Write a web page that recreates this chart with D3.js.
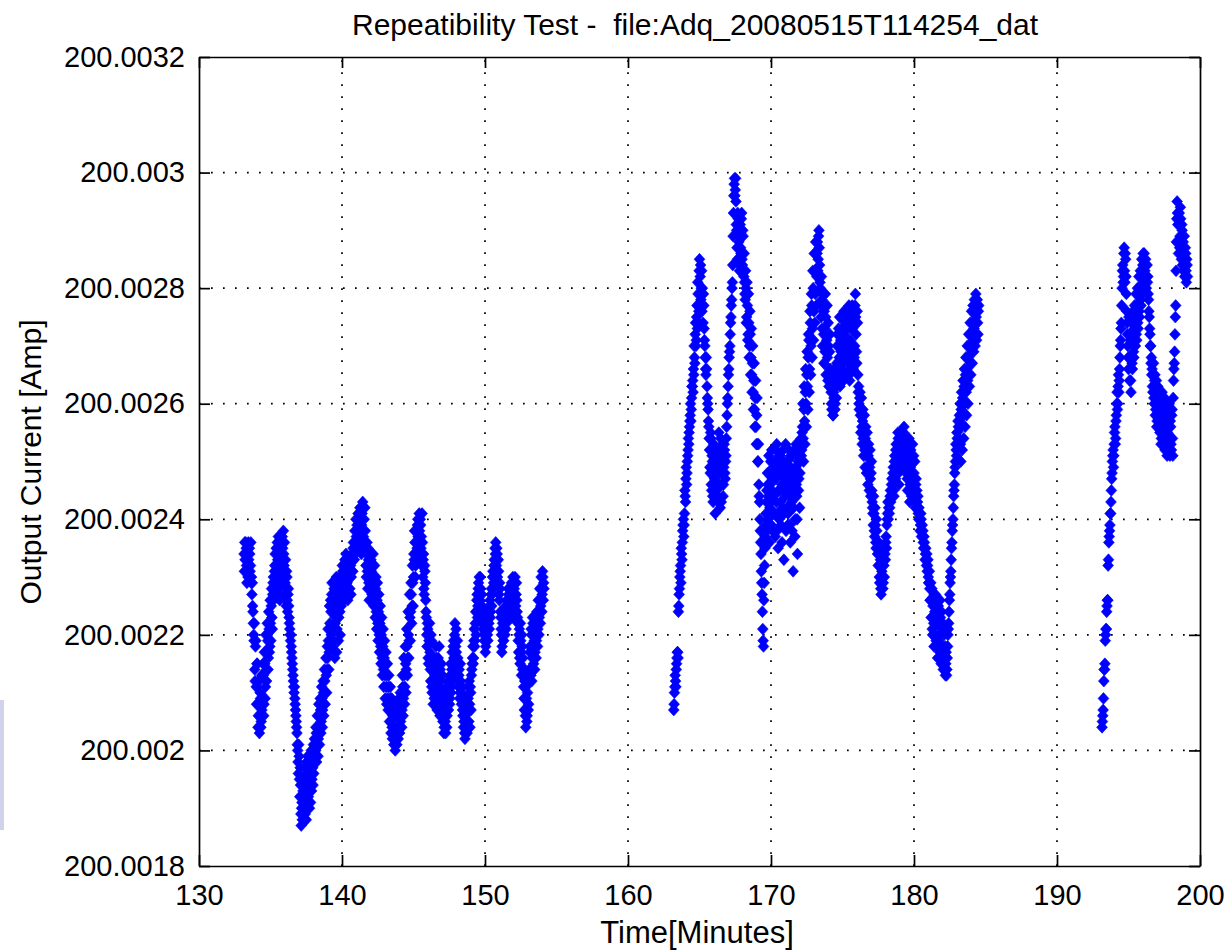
<!DOCTYPE html>
<html>
<head>
<meta charset="utf-8">
<title>Repeatibility Test</title>
<script src="https://d3js.org/d3.v7.min.js"></script>
<style>
  body { margin: 0; background: #fff; }
  svg text { font-family: "Liberation Sans", Arial, Helvetica, sans-serif; fill: #000; white-space: pre; }
</style>
</head>
<body>
<div id="chart"></div>
<script>

// three acquisition runs, one reading every 0.05 minutes plus one half a step later
const sampleStep = 0.05;
const seg1Start = 133.15;
const seg2Start = 163.20;
const seg3Start = 193.15;

// output current, in units of 10 uA above 200 A (234 -> 200.00234)
const seg1Values = [
  234,236,231,235,229,233,236,230,234,232,229,227,225,222,219,214,218,211,215,208,
  206,212,204,209,205,207,209,213,208,215,211,217,214,219,216,221,218,222,225,223,
  227,230,228,232,229,235,227,233,237,231,226,234,236,230,235,238,232,227,233,225,
  230,224,228,223,221,219,218,216,214,212,210,209,207,205,203,200,196,199,192,194,
  187,191,189,195,190,197,193,188,196,199,192,194,198,191,200,195,197,201,199,201,
  200,203,201,204,202,206,204,207,205,209,207,210,208,212,210,213,214,216,219,217,
  222,226,220,229,218,224,228,216,223,230,221,226,219,227,224,229,225,227,231,228,
  230,233,227,232,229,226,231,233,228,232,230,234,231,236,233,238,235,237,239,236,
  240,235,242,238,234,241,243,237,240,242,235,230,236,228,233,226,234,229,231,227,
  232,228,229,226,228,224,226,222,224,220,222,218,220,216,218,214,216,213,215,211,
  213,209,211,207,209,205,207,204,206,202,204,201,203,201,204,202,206,203,207,205,
  209,207,211,209,213,211,215,214,218,216,220,219,223,224,227,225,229,230,233,236,
  232,238,235,240,236,241,233,239,237,241,230,234,227,231,226,223,218,221,215,220,
  217,212,219,210,214,216,209,213,211,216,207,214,209,218,206,212,215,208,205,210,
  204,208,203,211,206,209,207,212,209,215,211,217,214,219,216,222,218,217,213,216,
  211,214,210,212,208,211,206,204,207,202,205,209,203,211,207,212,204,210,213,215,
  218,216,221,219,224,222,227,225,229,230,226,228,223,225,221,223,219,221,218,220,
  222,219,224,221,226,224,228,227,231,229,233,235,236,232,234,229,231,226,228,223,
  220,218,221,219,223,220,225,222,226,224,227,225,228,224,229,226,230,223,228,230,
  225,229,224,222,217,221,215,219,213,218,216,211,207,214,204,209,206,212,208,214,
  218,213,220,216,222,215,219,217,220,219,222,221,224,223,226,225,228,227,230,229
];
const seg1MidValues = [
  231,233,236,232,234,230,233,235,231,236,230,229,224,220,222,212,219,208,215,204,
  212,203,210,204,213,206,215,206,217,209,220,212,222,214,224,217,226,219,228,221,
  229,226,231,234,232,228,236,230,234,228,237,229,232,237,229,234,236,229,226,231,
  226,227,225,222,220,220,217,215,213,211,211,208,206,204,201,198,201,195,197,189,
  190,188,193,192,194,189,195,198,191,194,197,190,195,199,193,198,194,196,202,198,
  204,198,206,199,208,201,209,203,211,204,212,206,214,208,216,210,218,221,214,225,
  218,224,227,221,226,219,225,222,229,217,225,228,223,230,220,226,228,232,229,226,
  228,231,234,229,233,230,228,232,230,227,233,231,235,233,236,234,240,238,235,241,
  237,239,236,241,239,236,240,242,235,238,232,234,231,235,229,231,228,233,226,230,
  234,225,232,223,230,221,229,219,227,217,225,215,223,213,221,211,219,209,217,208,
  215,207,213,205,211,203,209,202,208,201,207,200,206,201,208,202,209,203,210,204,
  204,213,206,216,208,218,210,221,213,224,216,227,219,229,222,232,225,234,238,230,
  236,233,239,237,234,238,240,235,232,236,233,228,232,229,224,220,222,216,219,222,
  214,220,211,216,208,212,215,210,218,209,212,216,211,207,214,209,206,213,208,203,
  207,205,210,204,208,212,210,208,213,210,214,212,218,216,220,219,221,215,219,212,
  213,209,215,209,210,207,209,205,203,206,208,204,207,209,205,208,211,207,214,216,
  215,219,218,222,220,226,223,228,226,228,230,224,227,222,224,220,222,217,220,219,
  220,223,222,225,223,227,225,230,228,232,231,234,233,235,230,233,227,229,224,221,
  217,222,219,222,221,224,221,226,223,228,224,227,225,227,223,228,225,229,226,227,
  227,226,223,219,220,216,222,217,220,214,213,209,212,206,211,205,210,207,212,217,
  213,221,212,223,217,223,214,222,216,224,218,226,220,228,222,230,224,231,226,228
];

const seg2Values = [
  207,210,213,211,215,217,216,225,228,231,229,234,236,239,237,241,244,247,246,250,
  252,253,256,258,257,261,263,262,265,268,272,270,275,273,279,276,285,282,278,283,
  280,274,277,271,268,265,266,261,259,256,252,248,254,245,250,243,253,247,241,249,
  245,251,243,255,248,242,250,246,253,244,249,252,247,251,256,260,263,266,269,272,
  275,278,281,289,296,299,297,295,290,285,292,288,283,291,286,293,284,289,282,281,
  278,280,275,277,272,274,270,272,268,265,267,262,264,259,261,256,258,253,250,246,
  243,238,234,229,224,219,226,232,237,241,245,248,240,251,236,246,243,252,238,249,
  244,250,237,247,253,241,235,248,245,251,239,246,242,252,233,249,244,238,250,247,
  241,252,246,236,249,243,251,231,245,248,240,253,244,234,250,247,242,250,254,252,
  256,254,259,257,262,260,265,263,268,271,266,274,270,277,273,280,276,283,279,286,
  282,288,285,290,284,280,275,278,270,276,267,273,279,265,271,268,274,263,269,266,
  262,259,264,258,261,266,260,263,267,272,265,270,275,264,269,273,266,271,276,268,
  273,265,270,274,267,277,264,271,275,268,273,266,276,270,279,272,267,274,262,260,
  261,258,259,256,257,254,256,252,254,251,252,249,251,248,249,247,248,245,242,239,
  241,237,239,235,238,234,232,236,229,233,227,231,234,229,232,235,233,237,239,241,
  240,243,242,245,244,247,246,249,244,251,247,253,248,250,254,246,252,255,249,253,
  251,254,256,250,253,248,252,245,250,254,243,249,251,246,253,244,248,250,242,247,
  245,243,241,242,240,239,240,238,237,236,237,235,234,233,234,232,230,229,228,226,
  223,228,220,226,218,224,227,219,222,216,225,220,217,223,215,221,218,214,220,216,
  213,217,214,218,221,224,227,230,233,236,239,242,245,248,250,252,255,253,256,254,
  257,253,259,256,261,258,263,260,265,262,266,264,268,265,270,267,272,269,274,271,
  273,276,272,275,277,274,276
];
const seg2MidValues = [
  208,211,212,214,216,217,224,227,230,232,235,233,238,240,239,245,243,249,248,251,
  254,255,257,260,259,263,264,266,270,267,274,271,277,281,274,283,279,284,280,276,
  277,279,273,270,266,268,263,260,257,254,249,255,246,251,244,248,251,244,252,246,
  248,244,252,246,250,254,243,248,251,246,253,248,250,254,258,261,265,268,270,274,
  277,280,284,293,298,296,299,291,287,293,289,284,290,287,292,285,290,283,286,279,
  283,274,281,271,279,268,276,265,273,262,270,259,267,256,264,253,261,250,253,244,
  240,236,231,227,221,218,229,235,239,243,238,246,244,248,242,250,239,245,247,241,
  248,241,252,243,238,249,245,240,251,243,248,236,250,245,241,247,253,246,242,239,
  248,244,239,251,245,238,247,242,252,237,249,246,240,251,245,252,248,253,251,255,
  260,250,263,253,266,256,269,259,272,262,276,265,279,268,283,271,286,274,288,277,
  286,283,289,287,281,277,282,273,279,272,276,269,275,270,277,264,270,266,272,264,
  260,263,258,262,264,259,265,261,270,266,273,268,263,271,267,275,269,264,272,274,
  269,275,268,271,276,265,273,269,266,277,270,274,268,277,275,269,276,265,263,259,
  262,255,261,253,259,251,258,249,256,248,255,246,253,245,252,244,250,243,241,244,
  238,242,236,240,235,236,234,230,234,228,232,230,228,233,230,234,236,235,240,243,
  242,241,244,243,246,245,248,245,250,247,252,249,251,255,248,251,253,250,254,251,
  253,255,252,254,249,251,247,253,247,251,246,252,244,250,247,251,245,243,246,244,
  242,244,240,241,238,241,237,239,238,235,236,233,235,232,231,233,229,231,226,229,
  226,221,225,222,227,220,223,225,218,224,219,222,226,218,224,216,222,217,215,218,
  215,213,216,220,222,226,229,231,235,238,240,244,246,249,253,251,254,257,253,258,
  260,250,262,252,264,254,266,256,268,258,270,260,272,263,274,265,276,267,277,269,
  278,270,279,271,278,272,277
];

const seg3Values = [
  204,206,209,214,215,220,221,225,226,233,237,239,241,245,248,251,249,253,256,254,
  258,262,260,265,264,268,271,274,280,284,282,287,281,285,279,274,270,266,272,268,
  264,271,267,275,269,273,270,275,272,277,274,279,276,280,278,282,280,284,281,286,
  283,285,280,284,282,278,275,272,270,268,266,262,267,260,265,259,264,257,263,256,
  261,255,260,254,262,253,258,256,252,259,254,251,257,253,260,251,256,252,259,251,
  264,267,272,277,288,295,291,286,293,289,292,285,290,287,283,289,284,286,281,284
];
const seg3MidValues = [
  205,207,212,214,219,221,224,226,232,236,238,241,243,247,250,252,251,255,253,257,
  260,259,263,262,266,270,273,277,283,281,286,283,286,282,276,272,268,275,264,271,
  262,274,266,276,268,277,270,279,271,280,273,282,275,283,277,285,279,286,281,284,
  281,284,282,281,279,276,273,270,267,265,263,265,261,264,258,262,256,261,258,260,
  257,259,253,258,256,260,254,261,255,253,258,255,252,259,254,257,253,258,254,261,
  266,269,275,283,292,293,288,291,287,294,288,291,284,288,286,282,287,283,285,282
];

const xTicks = [130, 140, 150, 160, 170, 180, 190, 200];
const yTicks = [200.0018, 200.002, 200.0022, 200.0024, 200.0026, 200.0028, 200.003, 200.0032];
const yTickLabels = ["200.0018", "200.002", "200.0022", "200.0024", "200.0026", "200.0028", "200.003", "200.0032"];

const titleText = "Repeatibility Test -  file:Adq_20080515T114254_dat";
const xLabel = "Time[Minutes]";
const yLabel = "Output Current [Amp]";

const width = 1229;
const height = 952;
const plot = { left: 199, right: 1200, top: 57, bottom: 866 };

const svg = d3.select("#chart")
    .append("svg")
    .attr("width", width)
    .attr("height", height);

svg.append("rect")
    .attr("width", width)
    .attr("height", height)
    .attr("fill", "#fff");

// faint strip on the left edge of the original screenshot
svg.append("rect")
    .attr("x", 0).attr("y", 700)
    .attr("width", 4).attr("height", 130)
    .attr("fill", "#cfd3ec");

const x = d3.scaleLinear().domain([130, 200]).range([plot.left, plot.right]);
const y = d3.scaleLinear().domain([200.0018, 200.0032]).range([plot.bottom, plot.top]);

// dotted grid
const grid = svg.append("g")
    .attr("stroke", "#000")
    .attr("stroke-width", 1.7)
    .attr("stroke-dasharray", "1.7,10.3");

grid.selectAll("line.vx")
    .data(xTicks.slice(1, -1))
    .enter()
    .append("line")
    .attr("x1", d => x(d)).attr("x2", d => x(d))
    .attr("y1", plot.bottom).attr("y2", plot.top);

grid.selectAll("line.hy")
    .data(yTicks.slice(1, -1))
    .enter()
    .append("line")
    .attr("x1", plot.left).attr("x2", plot.right)
    .attr("y1", d => y(d)).attr("y2", d => y(d));

// build the points from the three runs
const points = [];
const runs = [
    [seg1Start, seg1Values, seg1MidValues],
    [seg2Start, seg2Values, seg2MidValues],
    [seg3Start, seg3Values, seg3MidValues]
];
runs.forEach(([start, vals, mids]) => {
    vals.forEach((v, i) => {
        points.push({ t: start + i * sampleStep, amp: 200 + v / 1e5 });
    });
    mids.forEach((v, i) => {
        points.push({ t: start + sampleStep / 2 + i * sampleStep, amp: 200 + v / 1e5 });
    });
});

const diamond = "M0,-5.9L5.4,0L0,5.9L-5.4,0Z";

svg.append("g")
    .selectAll("path")
    .data(points)
    .enter()
    .append("path")
    .attr("d", diamond)
    .attr("transform", d => `translate(${x(d.t)},${y(d.amp)})`)
    .attr("fill", "#0000ff")
    .attr("stroke", "#0000ff")
    .attr("stroke-width", 0.6);

// axes, ticks point inward on all four sides
const tickLen = 11;

const styleAxis = g => {
    g.select(".domain").attr("stroke", "#000").attr("stroke-width", 1.7);
    g.selectAll(".tick line").attr("stroke", "#000").attr("stroke-width", 1.7);
    g.selectAll(".tick text").attr("font-size", 29).attr("fill", "#000");
};

svg.append("g")
    .attr("transform", `translate(0,${plot.bottom})`)
    .call(d3.axisBottom(x).tickValues(xTicks).tickSize(-tickLen).tickSizeOuter(0).tickPadding(18))
    .call(styleAxis);

svg.append("g")
    .attr("transform", `translate(0,${plot.top})`)
    .call(d3.axisTop(x).tickValues(xTicks).tickSize(-tickLen).tickSizeOuter(0).tickFormat(""))
    .call(styleAxis);

svg.append("g")
    .attr("transform", `translate(${plot.left},0)`)
    .call(d3.axisLeft(y).tickValues(yTicks).tickSize(-tickLen).tickSizeOuter(0).tickPadding(14)
        .tickFormat((d, i) => yTickLabels[i]))
    .call(styleAxis);

svg.append("g")
    .attr("transform", `translate(${plot.right},0)`)
    .call(d3.axisRight(y).tickValues(yTicks).tickSize(-tickLen).tickSizeOuter(0).tickFormat(""))
    .call(styleAxis);

svg.selectAll("g").attr("font-family", null);

// title and axis labels
svg.append("text")
    .attr("x", 695)
    .attr("y", 35)
    .attr("text-anchor", "middle")
    .attr("font-size", 30)
    .text(titleText);

svg.append("text")
    .attr("x", 697)
    .attr("y", 943)
    .attr("text-anchor", "middle")
    .attr("font-size", 31)
    .text(xLabel);

svg.append("text")
    .attr("transform", "translate(41,462) rotate(-90)")
    .attr("text-anchor", "middle")
    .attr("font-size", 30)
    .text(yLabel);

</script>
</body>
</html>
